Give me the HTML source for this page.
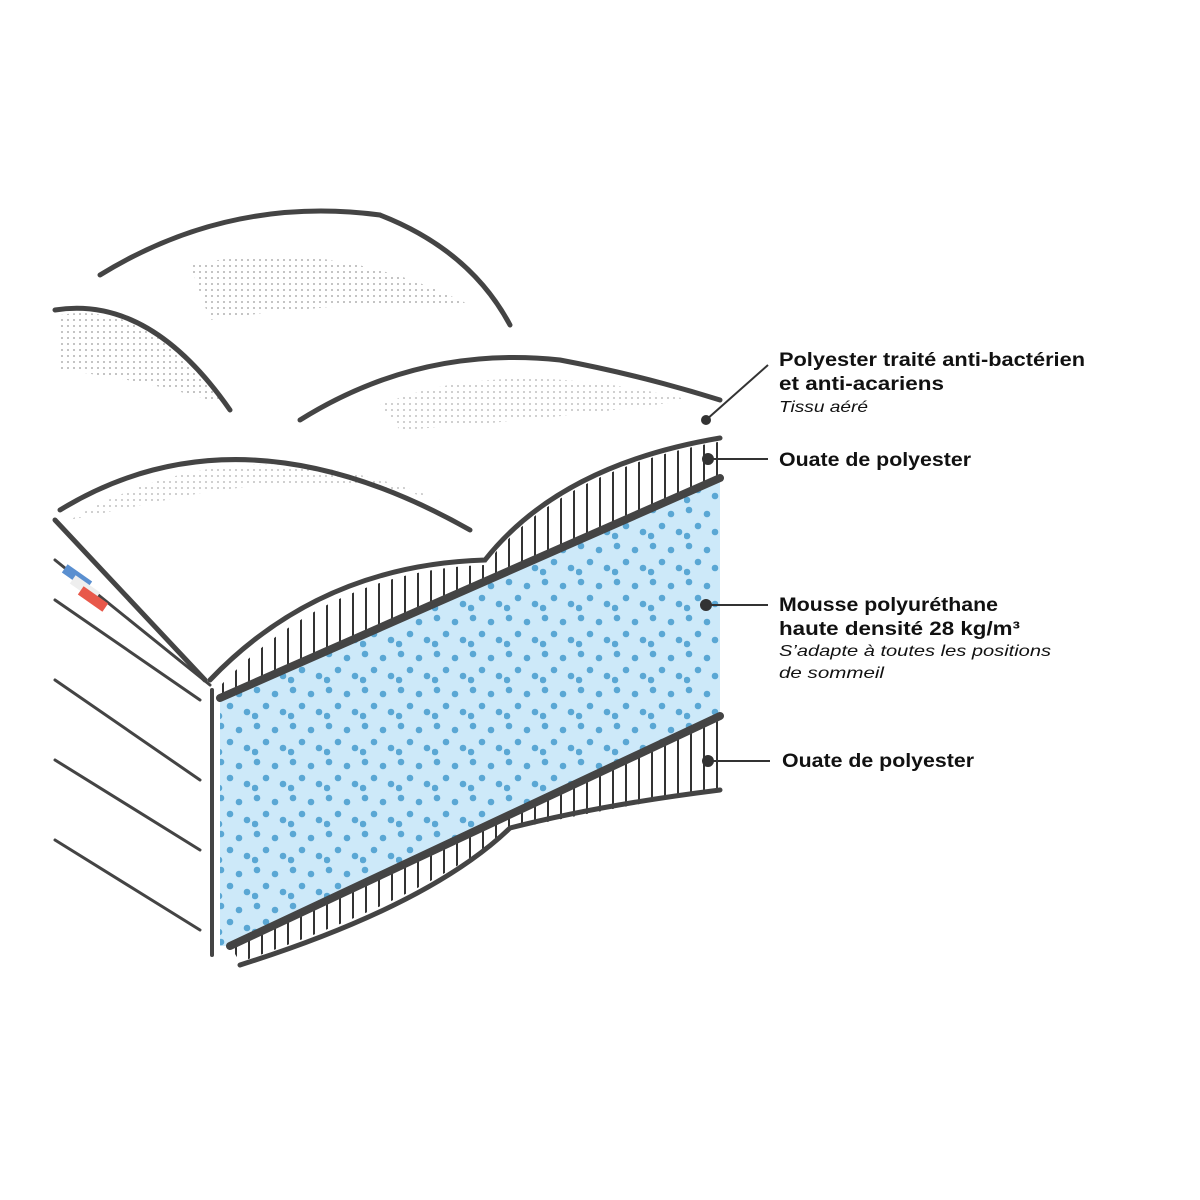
<!DOCTYPE html>
<html><head><meta charset="utf-8"><style>
body{margin:0;background:#fff}
svg{display:block}
text{font-family:"Liberation Sans",sans-serif;fill:#111}
</style></head><body>
<svg width="1200" height="1200" viewBox="0 0 1200 1200" xmlns="http://www.w3.org/2000/svg">
<defs>
<pattern id="dots" width="36" height="36" patternUnits="userSpaceOnUse">
<rect width="36" height="36" fill="#cde9f9"/>
<circle cx="5" cy="6" r="3.3" fill="#5aa7d4"/><circle cx="23" cy="10" r="3.3" fill="#5aa7d4"/>
<circle cx="14" cy="22" r="3.3" fill="#5aa7d4"/><circle cx="31" cy="28" r="3.3" fill="#5aa7d4"/>
<circle cx="3" cy="32" r="3.3" fill="#5aa7d4"/>
</pattern>
<pattern id="vh" width="13" height="40" patternUnits="userSpaceOnUse">
<rect width="13" height="40" fill="#fff"/><line x1="2" y1="0" x2="2" y2="40" stroke="#333" stroke-width="2"/>
</pattern>
<pattern id="stip" width="6" height="6" patternUnits="userSpaceOnUse">
<circle cx="2" cy="2" r="0.9" fill="#999"/>
</pattern>
</defs>
<path d="M60,315 Q150,300 225,405 Q150,380 60,370Z" fill="url(#stip)"/>
<path d="M190,265 Q330,235 470,305 Q350,300 210,320Z" fill="url(#stip)"/>
<path d="M70,520 Q240,420 440,500 Q330,470 190,495Z" fill="url(#stip)" opacity="0.8"/>
<path d="M380,405 Q500,355 690,400 Q550,420 400,430Z" fill="url(#stip)" opacity="0.8"/>
<path d="M218,688 Q330,570 485,565 Q560,470 718,442 L720,480 L220,698Z" fill="url(#vh)"/>
<path d="M220,698 L720,478 L720,716 L230,946 L220,946Z" fill="url(#dots)"/>
<path d="M230,946 L720,716 L720,790 Q600,810 510,830 Q420,900 240,962Z" fill="url(#vh)"/>
<g fill="none" stroke="#444" stroke-width="5" stroke-linecap="round">
<path d="M210,680 Q320,565 485,560 Q560,465 720,438"/>
<path d="M220,698 L720,478" stroke-width="8"/>
<path d="M230,946 L720,716" stroke-width="8"/>
<path d="M720,790 Q600,805 510,828 Q430,905 240,965"/>
<path d="M212,690 L212,955" stroke-width="4"/>
<path d="M55,310 Q150,295 230,410"/>
<path d="M100,275 Q230,195 380,215 Q470,250 510,325"/>
<path d="M300,420 Q420,345 560,360 Q640,375 720,400"/>
<path d="M60,510 Q240,400 470,530"/>
<path d="M55,520 L205,680"/>
<path d="M55,600 L200,700" stroke-width="3"/>
<path d="M55,680 L200,780" stroke-width="3"/>
<path d="M55,760 L200,850" stroke-width="3"/>
<path d="M55,840 L200,930" stroke-width="3"/>
<path d="M55,560 L210,685" stroke-width="3"/>
</g>
<rect x="62" y="572" width="30" height="10" fill="#5a8fd0" transform="rotate(35 77 577)"/>
<rect x="70" y="583" width="30" height="10" fill="#eee" transform="rotate(35 85 588)"/>
<rect x="78" y="594" width="30" height="10" fill="#e8584a" transform="rotate(35 93 599)"/>
<g stroke="#333" stroke-width="2">
<line x1="706" y1="420" x2="768" y2="365"/><circle cx="706" cy="420" r="4" fill="#333"/>
<line x1="708" y1="459" x2="768" y2="459"/><circle cx="708" cy="459" r="5" fill="#333"/>
<line x1="706" y1="605" x2="768" y2="605"/><circle cx="706" cy="605" r="5" fill="#333"/>
<line x1="708" y1="761" x2="770" y2="761"/><circle cx="708" cy="761" r="5" fill="#333"/>
</g>
<g font-size="19" font-weight="bold">
<text x="779" y="366" textLength="306" lengthAdjust="spacingAndGlyphs">Polyester traité anti-bactérien</text>
<text x="779" y="390" textLength="165" lengthAdjust="spacingAndGlyphs">et anti-acariens</text>
<text x="779" y="466" textLength="192" lengthAdjust="spacingAndGlyphs">Ouate de polyester</text>
<text x="779" y="611" textLength="219" lengthAdjust="spacingAndGlyphs">Mousse polyuréthane</text>
<text x="779" y="635" textLength="241" lengthAdjust="spacingAndGlyphs">haute densité  28 kg/m³</text>
<text x="782" y="767" textLength="192" lengthAdjust="spacingAndGlyphs">Ouate de polyester</text>
</g>
<g font-size="16" font-style="italic">
<text x="779" y="412" textLength="89" lengthAdjust="spacingAndGlyphs">Tissu aéré</text>
<text x="779" y="656" textLength="272" lengthAdjust="spacingAndGlyphs">S’adapte à toutes les positions</text>
<text x="779" y="678" textLength="105" lengthAdjust="spacingAndGlyphs">de sommeil</text>
</g>
</svg>
</body></html>
